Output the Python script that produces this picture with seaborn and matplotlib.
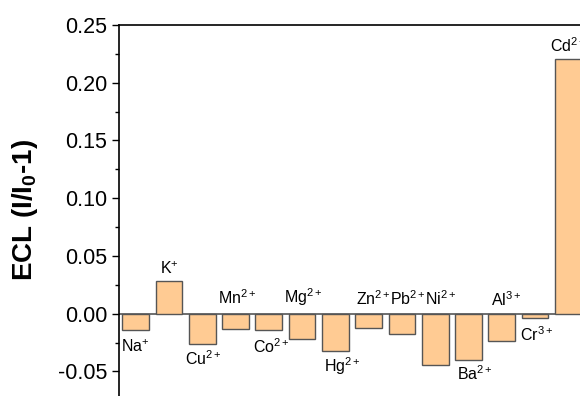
import numpy as np
import pandas as pd
import matplotlib
matplotlib.use("Agg")
import matplotlib.pyplot as plt
from matplotlib.ticker import MultipleLocator, FormatStrFormatter
import seaborn as sns

# --- data ---
ions = ["Na", "K", "Cu", "Mn", "Co", "Mg", "Hg", "Zn", "Pb", "Ni", "Ba", "Al", "Cr", "Cd"]
charges = ["+", "+", "2+", "2+", "2+", "2+", "2+", "2+", "2+", "2+", "2+", "3+", "3+", "2+"]
ecl = [-0.0141, 0.0280, -0.0260, -0.0133, -0.0144, -0.0220, -0.0320, -0.0124,
       -0.0179, -0.0442, -0.0404, -0.0239, -0.0040, 0.2205]

# label anchors (bar index offset, y in data units), hand placed as in the original
label_dx = [0.0, 0.0, 0.03, 0.05, 0.07, 0.03, 0.2, 0.13, 0.17, 0.17, 0.2, 0.13, 0.05, 0.0]
label_y = [-0.0289, 0.0387, -0.0392, 0.0136, -0.0281, 0.0145, -0.0452, 0.0128,
           0.0128, 0.0128, -0.0515, 0.0119, -0.0184, 0.2320]

BAR_COLOR = "#FFCB93"
EDGE = "#555555"

df = pd.DataFrame({"ion": ions, "ecl": ecl})

sns.set_style("ticks")
plt.rcParams["font.family"] = ["Liberation Sans", "DejaVu Sans"]
plt.rcParams["mathtext.fontset"] = "custom"
plt.rcParams["mathtext.rm"] = "Liberation Sans"
plt.rcParams["mathtext.it"] = "Liberation Sans"
plt.rcParams["mathtext.bf"] = "Liberation Sans:bold"
for key in ["text.color", "axes.labelcolor", "xtick.color", "ytick.color", "axes.edgecolor"]:
    plt.rcParams[key] = "black"

fig = plt.figure(figsize=(5.8, 3.96), dpi=100)
# axes run past the right and bottom edge, like the cropped original
ax = fig.add_axes([0.2052, -0.0109, 0.8034, 0.9478])

sns.barplot(data=df, x="ion", y="ecl", order=ions, color=BAR_COLOR,
            edgecolor=EDGE, linewidth=1.0, width=0.8, saturation=1, ax=ax)
ax.axhline(0, color=EDGE, lw=1.2, zorder=0.5)

for i, (name, ch) in enumerate(zip(ions, charges)):
    ax.text(i + label_dx[i], label_y[i], name + "$^{" + ch + "}$",
            ha="center", va="center", fontsize=11.5)

ax.set_xlim(-0.5, 13.5)
ax.set_ylim(-0.075, 0.25)
ax.yaxis.set_major_locator(MultipleLocator(0.05))
ax.yaxis.set_minor_locator(MultipleLocator(0.025))
ax.yaxis.set_major_formatter(FormatStrFormatter("%.2f"))
ax.tick_params(axis="y", which="major", length=5, width=1.0, labelsize=15.5, direction="out")
ax.tick_params(axis="y", which="minor", length=3, width=1.0, direction="out")
ax.tick_params(axis="x", bottom=False, labelbottom=False)
ax.set_xlabel("")
ax.set_ylabel("")

for s in ax.spines.values():
    s.set_linewidth(1.2)
    s.set_color("black")

fig.text(0.043, 0.47, r"$\mathbf{ECL\ (I/I_0}$-$\mathbf{1)}$", rotation=90,
         ha="center", va="center", fontsize=20, fontweight="bold")

fig.savefig("out.png", dpi=100)
